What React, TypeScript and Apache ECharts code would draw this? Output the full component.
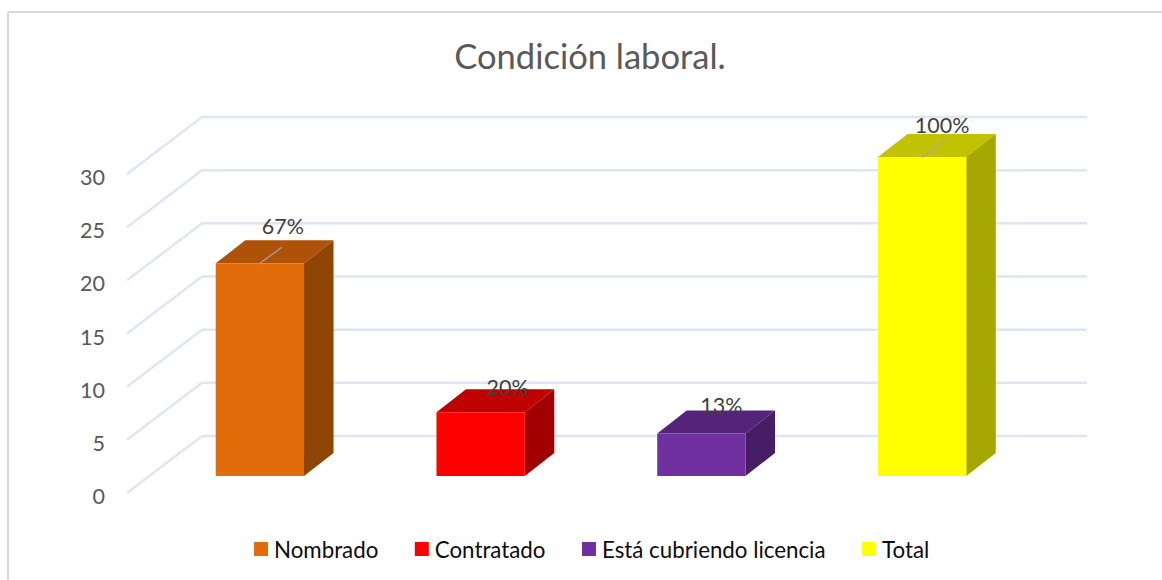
import React, { useEffect, useRef } from "react";
import * as echarts from "echarts";

const categories = ["Nombrado", "Contratado", "Está cubriendo licencia", "Total"];
const values = [20, 6, 4, 30];
const percentLabels = ["67%", "20%", "13%", "100%"];
const yTicks = [0, 5, 10, 15, 20, 25, 30];

const FONT = "Lato, 'Open Sans', sans-serif";
const faceColors = ["#E36C0A", "#FF0000", "#7030A0", "#FFFF00"];
const topColors = ["#AD5208", "#C00000", "#55247A", "#C2C200"];
const sideColors = ["#8E4505", "#A00000", "#471E66", "#A6A600"];
const labelOffsets = [[23, -37], [27, -25], [20, -28], [20, -32]];
const showLeader = [true, false, false, true];

const WALL_DX = 75;
const WALL_DY = -57;
const BAR_DX = 22.5;
const BAR_DY = -17;
const DEPTH_DX = 29.5;
const DEPTH_DY = -23;

export default function App() {
  const ref = useRef<HTMLDivElement>(null);
  useEffect(() => {
    const chart = echarts.init(ref.current!, null, { renderer: "svg" });
    const barSeries = categories.map((name, i) => ({
      type: "custom",
      name,
      z: 3 + i,
      clip: false,
      itemStyle: { color: faceColors[i] },
      encode: { x: 0, y: 1 },
      data: [[i, values[i]]],
      renderItem: (_p: any, api: any) => {
        const top = api.coord([api.value(0), api.value(1)]);
        const base = api.coord([api.value(0), 0]);
        const w = api.size([1, 0])[0] * 0.4;
        const l = top[0] + BAR_DX - w / 2;
        const r = l + w;
        const t = top[1] + BAR_DY;
        const b = base[1] + BAR_DY;
        const children: any[] = [
          { type: "polygon", shape: { points: [[l, t], [r, t], [r + DEPTH_DX, t + DEPTH_DY], [l + DEPTH_DX, t + DEPTH_DY]] }, style: { fill: topColors[i] } },
          { type: "polygon", shape: { points: [[r, t], [r + DEPTH_DX, t + DEPTH_DY], [r + DEPTH_DX, b + DEPTH_DY], [r, b]] }, style: { fill: sideColors[i] } },
          { type: "rect", shape: { x: l, y: t, width: w, height: b - t }, style: { fill: faceColors[i] } },
        ];
        const cx = (l + r) / 2;
        if (showLeader[i]) {
          children.push({ type: "line", shape: { x1: cx, y1: t, x2: cx + 22, y2: t - 16 }, style: { stroke: "#A6A6A6", lineWidth: 1.2 } });
        }
        children.push({
          type: "text",
          x: cx + labelOffsets[i][0],
          y: t + labelOffsets[i][1],
          style: { text: percentLabels[i], fill: "#404040", font: `21.5px ${FONT}`, textAlign: "center", textVerticalAlign: "middle" },
        });
        return { type: "group", children };
      },
    }));

    chart.setOption({
      animation: false,
      backgroundColor: "#ffffff",
      title: {
        text: "Condición laboral.",
        left: 585,
        textAlign: "center",
        top: 33,
        textStyle: { fontFamily: FONT, fontSize: 34.5, fontWeight: "normal", color: "#595959" },
      },
      legend: {
        data: categories,
        left: 254,
        top: 538,
        padding: 0,
        icon: "rect",
        itemWidth: 14,
        itemHeight: 14,
        itemGap: 36.5,
        textStyle: { fontFamily: FONT, fontSize: 22.3, color: "#0D0D0D", padding: [0, 0, 0, 1] },
      },
      grid: { left: 127, right: 152, top: 174, bottom: 87 },
      xAxis: {
        type: "category",
        data: categories,
        axisLine: { show: false },
        axisTick: { show: false },
        axisLabel: { show: false },
      },
      yAxis: {
        type: "value",
        min: 0,
        max: 30,
        interval: 5,
        splitLine: { show: false },
        axisLine: { show: false },
        axisTick: { show: false },
        axisLabel: { margin: 22, fontFamily: FONT, fontSize: 21.5, color: "#595959", verticalAlign: "top", lineHeight: 6 },
      },
      graphic: [
        { type: "line", shape: { x1: 8, y1: 12, x2: 1162, y2: 12 }, style: { stroke: "#D9D9D9", lineWidth: 2 } },
        { type: "line", shape: { x1: 8, y1: 12, x2: 8, y2: 580 }, style: { stroke: "#D9D9D9", lineWidth: 2 } },
      ],
      series: [
        {
          type: "custom",
          z: 1,
          clip: false,
          silent: true,
          encode: { y: 0 },
          data: yTicks.map((v) => [v]),
          renderItem: (p: any, api: any) => {
            const left = p.coordSys.x;
            const right = left + p.coordSys.width;
            const y = api.coord([0, api.value(0)])[1];
            return {
              type: "polyline",
              shape: { points: [[left, y], [left + WALL_DX, y + WALL_DY], [right + WALL_DX + 2, y + WALL_DY]] },
              style: { stroke: "#DCE6F4", lineWidth: 2.5, fill: "none" },
            };
          },
        },
        ...barSeries,
      ],
    });
    return () => chart.dispose();
  }, []);
  return <div ref={ref} style={{ position: "absolute", left: 0, top: 0, width: 1162, height: 580 }} />;
}
